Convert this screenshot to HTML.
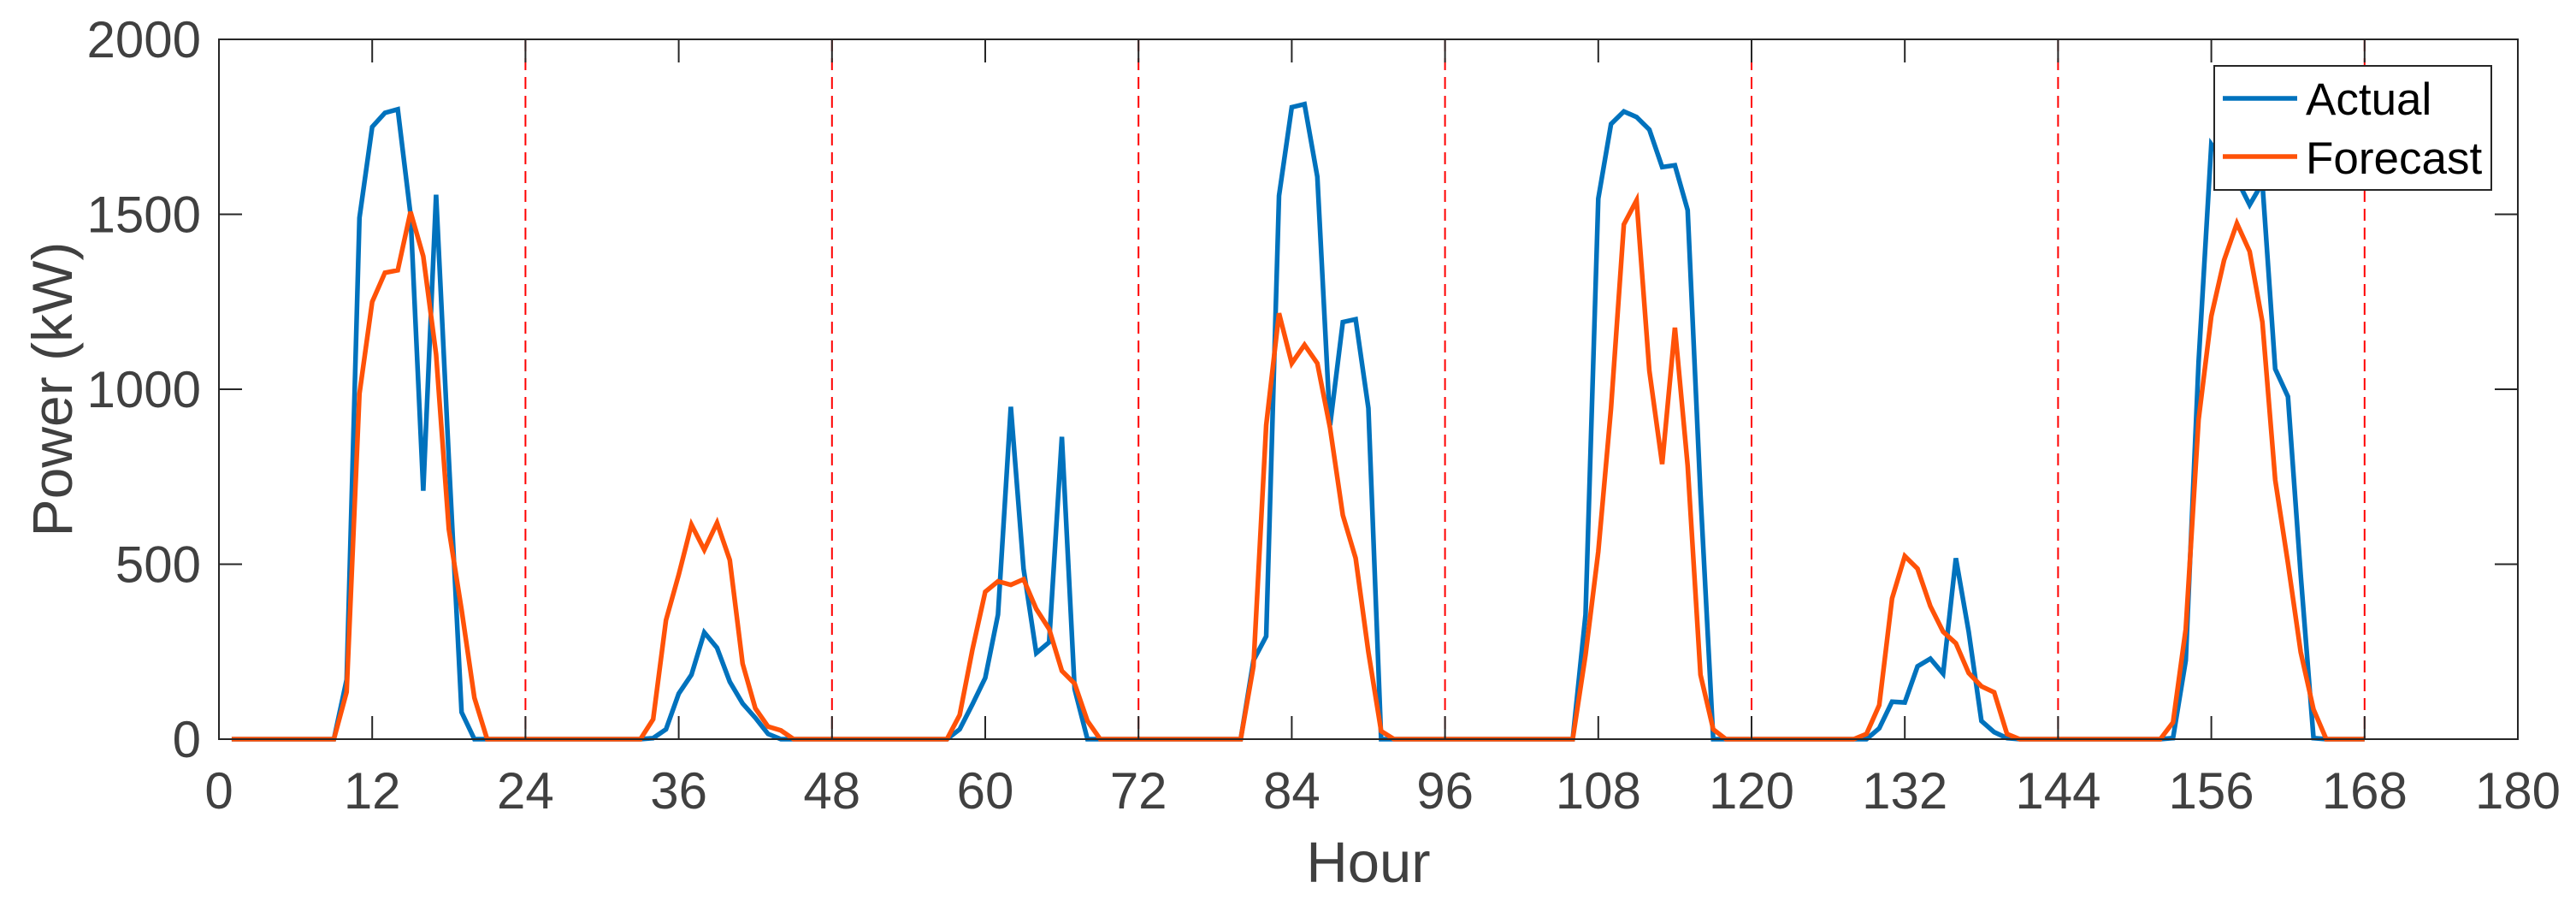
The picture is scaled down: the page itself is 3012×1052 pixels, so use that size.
<!DOCTYPE html>
<html><head><meta charset="utf-8"><style>
html,body{margin:0;padding:0;background:#fff;}
svg{display:block;font-family:"Liberation Sans",Arial,sans-serif;}
</style></head><body>
<svg id="chart" width="3012" height="1052" viewBox="0 0 3012 1052" xmlns="http://www.w3.org/2000/svg">
<rect x="0" y="0" width="3012" height="1052" fill="#fff"/>
<g id="grid"></g>
<g id="series"></g>
<g id="axes"></g>
<text x="1600" y="1031" text-anchor="middle" font-size="67" fill="#404040">Hour</text>
<text transform="translate(84,455) rotate(-90)" text-anchor="middle" font-size="66" fill="#404040">Power (kW)</text>
<g>
<rect x="2589" y="77" width="324" height="145" fill="#fff" stroke="#262626" stroke-width="2"/>
<line x1="2599" y1="115" x2="2686" y2="115" stroke="#0072BD" stroke-width="5.5"/>
<text x="2696" y="134" font-size="53" fill="#000">Actual</text>
<line x1="2599" y1="183" x2="2686" y2="183" stroke="#FF5208" stroke-width="5.5"/>
<text x="2696" y="203" font-size="53" fill="#000">Forecast</text>
</g>
</svg>
<script>
const hours = Array.from({length:168},(_,i)=>i+1);
const actual = [
0,0,0,0,0,0,0,0,0,170,1490,1750,
1790,1800,1500,710,1556,800,77,0,0,0,0,0,
0,0,0,0,0,0,0,0,0,3,28,130,
184,305,261,164,102,61,15,0,0,0,0,0,
0,0,0,0,0,0,0,0,0,28,100,175,
356,950,487,246,277,864,143,0,0,0,0,0,
0,0,0,0,0,0,0,0,225,294,1553,1806,
1815,1607,897,1192,1200,946,0,0,0,0,0,0,
0,0,0,0,0,0,0,0,0,0,356,1545,
1758,1794,1778,1742,1635,1640,1512,700,0,0,0,0,
0,0,0,0,0,0,0,0,0,31,107,105,
208,230,187,517,307,52,20,3,0,0,0,0,
0,0,0,0,0,0,0,0,3,225,1077,1700,
1650,1600,1527,1590,1058,979,470,3,0,0,0,0];
const forecast = [
0,0,0,0,0,0,0,0,0,135,987,1250,
1333,1340,1507,1380,1100,600,370,118,0,0,0,0,
0,0,0,0,0,0,0,0,0,57,340,470,
613,541,618,512,216,88,36,25,0,0,0,0,
0,0,0,0,0,0,0,0,0,69,257,421,
451,441,457,372,315,195,159,52,0,0,0,0,
0,0,0,0,0,0,0,0,208,897,1217,1074,
1127,1074,889,640,517,249,23,0,0,0,0,0,
0,0,0,0,0,0,0,0,0,0,241,536,
946,1471,1540,1053,786,1176,782,184,28,0,0,0,
0,0,0,0,0,0,0,0,15,97,402,523,
487,380,307,274,189,151,134,15,0,0,0,0,
0,0,0,0,0,0,0,0,48,315,913,1209,
1369,1474,1394,1192,741,503,249,85,0,0,0,0];
const xTicks = [0,12,24,36,48,60,72,84,96,108,120,132,144,156,168,180];
const yTicks = [0,500,1000,1500,2000];
const dayBoundaries = [24,48,72,96,120,144,168];

const L=256,R=2944,T=46,B=864;
const xs = v => L + (v-0)/(180-0)*(R-L);
const ys = v => B - (v-0)/(2000-0)*(B-T);
const NS="http://www.w3.org/2000/svg";
function mk(tag, attrs, parent){const e=document.createElementNS(NS,tag);for(const k in attrs)e.setAttribute(k,attrs[k]);parent.appendChild(e);return e;}

const grid=document.getElementById('grid');
dayBoundaries.forEach(d=>{
  const l=mk('line',{x1:xs(d),x2:xs(d),y1:T,y2:B,stroke:'#FF0000','stroke-width':2,'stroke-dasharray':'14,8'},grid);
  
  
});

const ser=document.getElementById('series');
function drawLine(vals,color,name){
  const pts=vals.map((v,i)=>xs(hours[i]).toFixed(1)+','+ys(v).toFixed(1)).join(' ');
  const p=mk('polyline',{points:pts,fill:'none',stroke:color,'stroke-width':5.5,'stroke-linejoin':'miter'},ser);
  
  
}
drawLine(actual,'#0072BD','actual-series-line');
drawLine(forecast,'#FF5208','forecast-series-line');

const ax=document.getElementById('axes');
const box=mk('rect',{x:L,y:T,width:R-L,height:B-T,fill:'none',stroke:'#262626','stroke-width':2},ax);


xTicks.forEach(t=>{
  const x=xs(t);
  mk('line',{x1:x,x2:x,y1:B,y2:B-27,stroke:'#262626','stroke-width':2},ax);
  mk('line',{x1:x,x2:x,y1:T,y2:T+27,stroke:'#262626','stroke-width':2},ax);
  const tx=mk('text',{x:x,y:945,'text-anchor':'middle','font-size':60,fill:'#404040'},ax);
  tx.textContent=t;
  
  
});
yTicks.forEach(t=>{
  const y=ys(t);
  mk('line',{x1:L,x2:L+27,y1:y,y2:y,stroke:'#262626','stroke-width':2},ax);
  mk('line',{x1:R,x2:R-27,y1:y,y2:y,stroke:'#262626','stroke-width':2},ax);
  const tx=mk('text',{x:235,y:y+21,'text-anchor':'end','font-size':60,fill:'#404040'},ax);
  tx.textContent=t;
  
  
});
</script>
</body></html>
